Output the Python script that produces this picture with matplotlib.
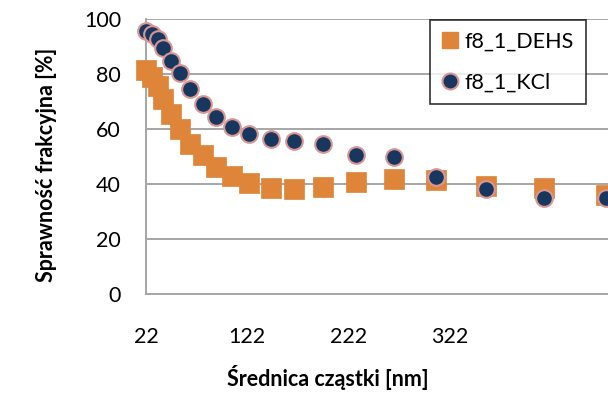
import matplotlib.pyplot as plt
from matplotlib.lines import Line2D

# particle diameter [nm]
diameter = [22, 27.6, 33.5, 39.1, 47, 55.6, 65.4, 78.5, 91.5, 106.6, 124,
            146, 168.7, 197.3, 229.2, 266.7, 308.2, 357.5, 414.8, 477]
# fractional efficiency [%]
dehs = [81.3, 78.9, 75.8, 71.0, 65.6, 60.1, 54.7, 50.5, 46.3, 43.0, 40.2,
        38.7, 38.2, 39.0, 40.8, 41.8, 41.4, 39.4, 38.7, 36.0]
kcl = [95.8, 94.6, 92.8, 89.4, 84.9, 80.4, 74.6, 69.2, 64.4, 60.8, 58.3,
       56.3, 55.6, 54.7, 50.5, 49.9, 42.6, 38.2, 35.0, 34.8]

xticks = [22, 122, 222, 322]
yticks = [0, 20, 40, 60, 80, 100]

plt.rcParams["font.family"] = ["Lato", "DejaVu Sans"]

orange = "#DE8539"
navy = "#17375E"
pink = "#D99694"
grid_gray = "#A6A6A6"
FS = 15.5

fig = plt.figure(figsize=(6.08, 3.95), dpi=100, facecolor="white")
# plot area runs past the right edge of the picture, like the original crop
ax = fig.add_axes([146 / 608, 101 / 395, 506 / 608, 275 / 395])

ax.plot(diameter, dehs, linestyle="none", marker="s", markersize=14.5,
        color=orange, markeredgecolor=orange, markeredgewidth=0.5,
        zorder=3, clip_on=False)
ax.plot(diameter, kcl, linestyle="none", marker="o", markersize=12,
        color=navy, markeredgecolor=pink, markeredgewidth=1.5,
        zorder=4, clip_on=False)

ax.set_xlim(22, 522)
ax.set_ylim(0, 100)
ax.set_xticks(xticks)
ax.set_yticks(yticks)
ax.tick_params(length=0, labelsize=FS, colors="black")
ax.tick_params(axis="y", pad=18)
ax.tick_params(axis="x", pad=24)

ax.grid(axis="y", color=grid_gray, linewidth=1.4, zorder=0)
ax.set_axisbelow(True)
for side in ["top", "right"]:
    ax.spines[side].set_visible(False)
for side in ["left", "bottom"]:
    ax.spines[side].set_color(grid_gray)
    ax.spines[side].set_linewidth(1.4)

fig.text(47 / 608, 1 - 165 / 395, "Sprawność frakcyjna [%]", rotation=90,
         ha="center", va="center", fontsize=FS, fontweight="bold")
fig.text(328 / 608, 1 - 377 / 395, "Średnica cząstki [nm]",
         ha="center", va="center", fontsize=FS, fontweight="bold")

handles = [
    Line2D([], [], linestyle="none", marker="s", markersize=11,
           color=orange, markeredgecolor=orange),
    Line2D([], [], linestyle="none", marker="o", markersize=11.5,
           color=navy, markeredgecolor=pink, markeredgewidth=1.5),
]
leg = fig.legend(handles, ["f8_1_DEHS", "f8_1_KCl"],
                 loc="upper left", bbox_to_anchor=(430 / 608, 1 - 20 / 395),
                 fontsize=FS, frameon=True, fancybox=False,
                 handlelength=0.8, handletextpad=0.25, labelspacing=0.95,
                 borderpad=0.55, borderaxespad=0)
leg.get_frame().set_edgecolor("black")
leg.get_frame().set_linewidth(1.2)

fig.savefig("out.png", dpi=100)
